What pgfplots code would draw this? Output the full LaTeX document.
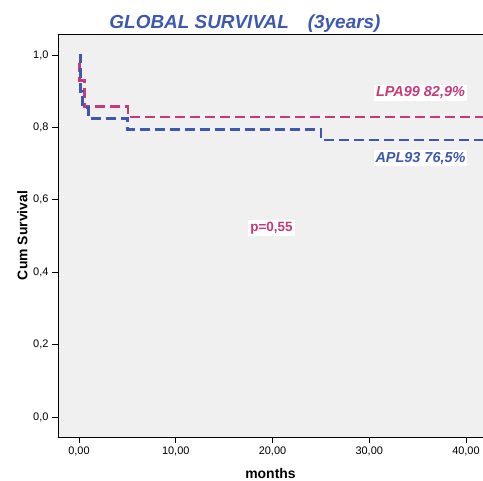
\documentclass[border=0pt]{standalone}
\usepackage{fontspec}
\setmainfont{Liberation Sans}
\usepackage{pgfplots}
\pgfplotsset{compat=1.18}
\definecolor{bgc}{RGB}{240,240,240}
\definecolor{cblue}{RGB}{62,88,176}
\definecolor{cpink}{RGB}{198,58,124}
\begin{document}
\begin{tikzpicture}
\path[use as bounding box] (-58bp,-44bp) rectangle (425bp,437bp);
\begin{axis}[
  at={(0,0)}, anchor=south west,
  scale only axis, width=425bp, height=403bp,
  xmin=-2.17, xmax=41.76, ymin=-0.055, ymax=1.058,
  axis x line*=bottom, axis y line*=left,
  axis line style={black, line width=0.9pt, -},
  axis background/.style={fill=bgc},
  tick align=outside, major tick length=6bp,
  tick style={black, line width=0.7pt},
  xtick={0,10,20,30,40}, ytick={0,0.2,0.4,0.6,0.8,1.0},
  /pgf/number format/assume math mode=true,
  xticklabel style={/pgf/number format/.cd, fixed, fixed zerofill, precision=2, use comma},
  yticklabel style={/pgf/number format/.cd, fixed, fixed zerofill, precision=1, use comma},
  tick label style={font=\fontsize{11}{12}\selectfont},
  xlabel={\textbf{months}}, ylabel={\textbf{Cum Survival}},
  label style={font=\fontsize{14}{16}\selectfont},
  xlabel style={yshift=-6bp},
  ylabel style={yshift=-1bp},
  title={\textbf{\textit{GLOBAL SURVIVAL\quad(3years)}}},
  title style={font=\fontsize{19}{21}\selectfont, text=cblue, at={(0.44,1)}, yshift=-8bp},
  clip=false,
]
\addplot[const plot, cpink, line width=2.7pt, dash pattern=on 10bp off 5bp] coordinates {
(0,0.978) (0.05,0.93) (0.55,0.857) (5.05,0.829) (41.76,0.829)};
\addplot[const plot, cblue, line width=2.7pt, dash pattern=on 10bp off 5bp] coordinates {
(0,1.0) (0.17,0.9) (0.38,0.855) (0.96,0.825) (5.0,0.795) (25.0,0.765) (41.76,0.765)};
\draw[black, line width=0.9pt] (rel axis cs:0,1) -- (rel axis cs:1,1);
\node[fill=white, inner sep=2bp, text=cpink, font=\fontsize{14.5}{16}\selectfont\bfseries\itshape] at (axis cs:35.3,0.895) {LPA99 82,9\%};
\node[fill=white, inner sep=2bp, text=cblue, font=\fontsize{14.5}{16}\selectfont\bfseries\itshape] at (axis cs:35.3,0.715) {APL93 76,5\%};
\node[fill=white, inner sep=2bp, text=cpink, font=\fontsize{13.5}{16}\selectfont\bfseries] at (axis cs:19.9,0.522) {p=0,55};
\end{axis}
\end{tikzpicture}
\end{document}
